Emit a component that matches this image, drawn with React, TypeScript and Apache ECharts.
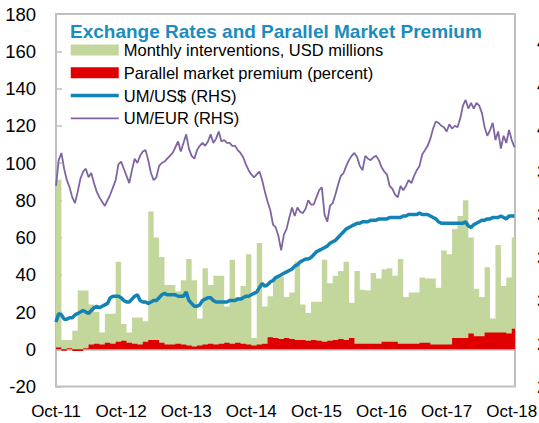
import React, { useEffect, useRef } from "react";
import * as echarts from "echarts";

const FONT = "'Liberation Sans', Arial, sans-serif";

const TITLE = "Exchange Rates and Parallel Market Premium";
const SERIES_NAMES = [
  "Monthly interventions, USD millions",
  "Parallel market premium (percent)",
  "UM/US$ (RHS)",
  "UM/EUR (RHS)",
];
// x tick labels, one per October (month index 0, 12, 24, ...)
const X_LABELS = ["Oct-11", "Oct-12", "Oct-13", "Oct-14", "Oct-15", "Oct-16", "Oct-17", "Oct-18"];

// Monthly interventions (USD millions), Oct-11 .. Oct-18
const interventions = [
  91, 5, 5, 10, 31.5, 31.5, 24, 20, 9, 19,
  19, 47, 13.5, 9, 17, 17, 15, 74, 60, 49.5,
  34.5, 34.5, 31, 37, 48.5, 37, 16.5, 43.5, 34.5, 39.5,
  39.5, 23, 48, 28, 34, 51, 6, 57, 23, 28.5,
  39, 39, 28, 30.5, 47, 24, 19.5, 25.5, 25.5, 48,
  35.5, 39.5, 42, 47, 25, 42, 32, 31.5, 41, 38,
  43, 43.5, 39.5, 48.5, 28, 30.5, 30.5, 38.5, 38, 38,
  33, 53, 51, 64.5, 71.5, 80, 60, 32.5, 28, 44,
  16.5, 56, 34, 38.5, 60,
];

// Parallel market premium (percent), monthly, Oct-11 .. Oct-18
const premium = [
  1, -0.8, 0.5, -1, -1, 0.5, 2.5, 3, 2.5, 3.5,
  3, 4, 4.5, 3.5, 3, 2.5, 4, 5, 5, 3.5,
  2.5, 2.5, 3, 2.5, 2, 1.5, 2, 2.5, 3, 2.5,
  3, 3.5, 3, 3.5, 3, 2.5, 2, 2.5, 3, 6.5,
  6, 5.5, 6, 5.5, 5, 5, 4.5, 5, 4.5, 4,
  4.5, 5, 5.5, 5, 6, 3, 3, 3, 3, 3,
  4, 4, 4, 3, 3, 3, 3, 3.5, 3.5, 2.5,
  2.5, 2.5, 2.5, 6, 6, 6, 8.5, 7, 7, 9,
  9, 9, 9, 8.5, 11,
];

// UM per US$, half-monthly from Oct-11
const umUsd = [
  285, 291, 290, 287, 287, 288, 288, 290, 291, 292,
  293, 292, 291, 293, 295, 296, 295, 296, 297, 298,
  302, 303, 303, 303, 302, 300, 299, 299, 301, 303,
  304, 300, 299, 299, 298, 299, 300, 300, 302, 304,
  305, 304, 304, 304, 304, 303, 303, 303, 306, 300,
  298, 296, 296, 297, 300, 301, 302, 302, 300, 299,
  299, 299, 299, 299, 300, 300, 300, 301, 301, 302,
  303, 303, 304, 305, 306, 309, 312, 310, 311, 313,
  314, 316, 317, 318, 319, 320, 321, 322, 324, 325,
  327, 328, 329, 329, 330, 332, 334, 335, 336, 337,
  338, 340, 341, 342, 344, 346, 348, 350, 351, 352,
  353, 354, 354, 355, 355, 355, 356, 356, 356, 357,
  357, 357, 357, 358, 358, 358, 358, 358, 359, 359,
  360, 360, 360, 360, 361, 360, 360, 360, 359, 358,
  357, 355, 354, 354, 354, 354, 354, 354, 354, 354,
  354, 355, 352, 351, 353, 354, 355, 356, 356, 357,
  357, 358, 358, 358, 359, 358, 357, 359, 359, 359,
];

// UM per EUR, half-monthly from Oct-11
const umEur = [
  380, 398, 403, 392, 384, 379, 372, 368, 376, 385,
  390, 392, 386, 389, 382, 376, 372, 369, 366, 370,
  374, 379, 384, 395, 397, 392, 387, 382, 391, 399,
  396, 401, 404, 405, 398, 389, 384, 386, 394, 396,
  397, 399, 401, 403, 407, 411, 404, 410, 416, 406,
  401, 399, 405, 408, 410, 408, 411, 416, 410, 413,
  418, 411, 412, 410, 410, 408, 408, 405, 403, 400,
  395, 391, 388, 386, 388, 390, 384, 376, 369, 363,
  353, 351, 345, 335, 346, 350, 358, 365, 359, 365,
  362, 361, 364, 370, 367, 367, 372, 377, 379, 360,
  355, 366, 368, 374, 381, 387, 389, 394, 398, 401,
  403, 400, 394, 391, 401, 399, 398, 400, 401, 398,
  393, 390, 388, 380, 378, 374, 372, 380, 377, 380,
  384, 382, 387, 391, 394, 402, 405, 408, 413, 420,
  425, 424, 422, 421, 418, 423, 420, 422, 421, 427,
  436, 440, 434, 438, 434, 438, 436, 431, 421, 415,
  419, 424, 412, 418, 406, 415, 410, 419, 412, 407,
];

const COLORS = {
  green: "#c3d69b",
  red: "#e00000",
  blue: "#1383b5",
  purple: "#8064a2",
  title: "#1a8cc0",
  frame: "#bfbfbf",
};

// monthly series -> step points (month start), closed by the month after the last one
const monthlySteps = (vals: number[]) => {
  const pts = vals.map((v, i) => [i, v]);
  pts.push([vals.length, vals[vals.length - 1]]);
  return pts;
};
const halfMonthly = (vals: number[]) => vals.map((v, i) => [i / 2, v]);

const X_MAX = 84.6;

export default function App() {
  const ref = useRef<HTMLDivElement>(null);

  useEffect(() => {
    if (!ref.current) return;
    const chart = echarts.init(ref.current, undefined, { renderer: "svg" });
    const axisLabelBase = { fontFamily: FONT, color: "#000" };
    chart.setOption({
      animation: false,
      textStyle: { fontFamily: FONT },
      title: {
        text: TITLE,
        left: 70,
        top: 21.5,
        padding: 0,
        textStyle: { fontFamily: FONT, fontSize: 19, fontWeight: "bold", color: COLORS.title },
      },
      legend: {
        orient: "vertical",
        left: 69,
        top: 41.5,
        padding: 0,
        itemWidth: 48,
        itemHeight: 11,
        itemGap: 5.8,
        selectedMode: false,
        textStyle: { fontFamily: FONT, fontSize: 16.5, color: "#000" },
        data: [
          { name: SERIES_NAMES[0], icon: "rect", itemStyle: { color: COLORS.green } },
          { name: SERIES_NAMES[1], icon: "rect", itemStyle: { color: COLORS.red } },
          { name: SERIES_NAMES[2], itemStyle: { opacity: 0 }, lineStyle: { width: 3.5, color: COLORS.blue } },
          { name: SERIES_NAMES[3], itemStyle: { opacity: 0 }, lineStyle: { width: 1.8, color: COLORS.purple } },
        ],
      },
      grid: {
        left: 56,
        right: 24,
        top: 14,
        bottom: 36.5,
        outerBoundsMode: "none",
        containLabel: false,
        show: true,
        borderColor: COLORS.frame,
        borderWidth: 2,
        backgroundColor: "transparent",
      },
      xAxis: [
        {
          type: "value",
          position: "bottom",
          min: 0,
          max: X_MAX,
          interval: 12,
          axisLine: { show: false, onZero: false },
          axisTick: { show: false },
          splitLine: { show: false },
          axisLabel: {
            ...axisLabelBase,
            fontSize: 17,
            margin: 16,
            showMaxLabel: false,
            hideOverlap: false,
            formatter: (v: number) => (v % 12 === 0 ? X_LABELS[v / 12] ?? "" : ""),
          },
        },
        {
          type: "value",
          position: "bottom",
          min: 0,
          max: X_MAX,
          interval: 12,
          axisLine: { show: true, onZero: true, onZeroAxisIndex: 0, lineStyle: { color: COLORS.frame, width: 1.5 } },
          axisTick: { show: true, inside: true, length: 5, lineStyle: { color: COLORS.frame, width: 1.5 } },
          splitLine: { show: false },
          axisLabel: { show: false },
        },
      ],
      yAxis: [
        {
          type: "value",
          position: "left",
          min: -20,
          max: 180,
          interval: 20,
          axisLine: { show: false, onZero: false },
          axisTick: { show: true, inside: true, length: 6, lineStyle: { color: COLORS.frame, width: 1.5 } },
          splitLine: { show: false },
          axisLabel: { ...axisLabelBase, fontSize: 18.5, margin: 20 },
        },
        {
          type: "value",
          position: "right",
          min: 240,
          max: 500,
          interval: 30,
          axisLine: { show: false, onZero: false },
          axisTick: { show: false },
          splitLine: { show: false },
          axisLabel: { ...axisLabelBase, fontSize: 18.5, margin: 22, showMaxLabel: false },
        },
      ],
      series: [
        {
          name: SERIES_NAMES[0],
          type: "line",
          xAxisIndex: 0,
          yAxisIndex: 0,
          step: "end",
          symbol: "none",
          lineStyle: { width: 0, color: COLORS.green },
          itemStyle: { color: COLORS.green },
          areaStyle: { color: COLORS.green, opacity: 1 },
          data: monthlySteps(interventions),
          z: 1,
        },
        {
          name: SERIES_NAMES[1],
          type: "line",
          xAxisIndex: 0,
          yAxisIndex: 0,
          step: "end",
          symbol: "none",
          lineStyle: { width: 0, color: COLORS.red },
          itemStyle: { color: COLORS.red },
          areaStyle: { color: COLORS.red, opacity: 1 },
          data: monthlySteps(premium),
          z: 2,
        },
        {
          name: SERIES_NAMES[2],
          type: "line",
          xAxisIndex: 0,
          yAxisIndex: 1,
          symbol: "none",
          lineStyle: { width: 3.5, color: COLORS.blue },
          itemStyle: { color: COLORS.blue },
          data: halfMonthly(umUsd),
          z: 3,
        },
        {
          name: SERIES_NAMES[3],
          type: "line",
          xAxisIndex: 0,
          yAxisIndex: 1,
          symbol: "none",
          lineStyle: { width: 1.8, color: COLORS.purple },
          itemStyle: { color: COLORS.purple },
          data: halfMonthly(umEur),
          z: 4,
        },
      ],
    });
    return () => chart.dispose();
  }, []);

  return (
    <div
      style={{ position: "fixed", left: 0, top: 0, width: 539, height: 423, overflow: "hidden", background: "#fff" }}
    >
      <div ref={ref} style={{ width: 539, height: 423 }} />
    </div>
  );
}
